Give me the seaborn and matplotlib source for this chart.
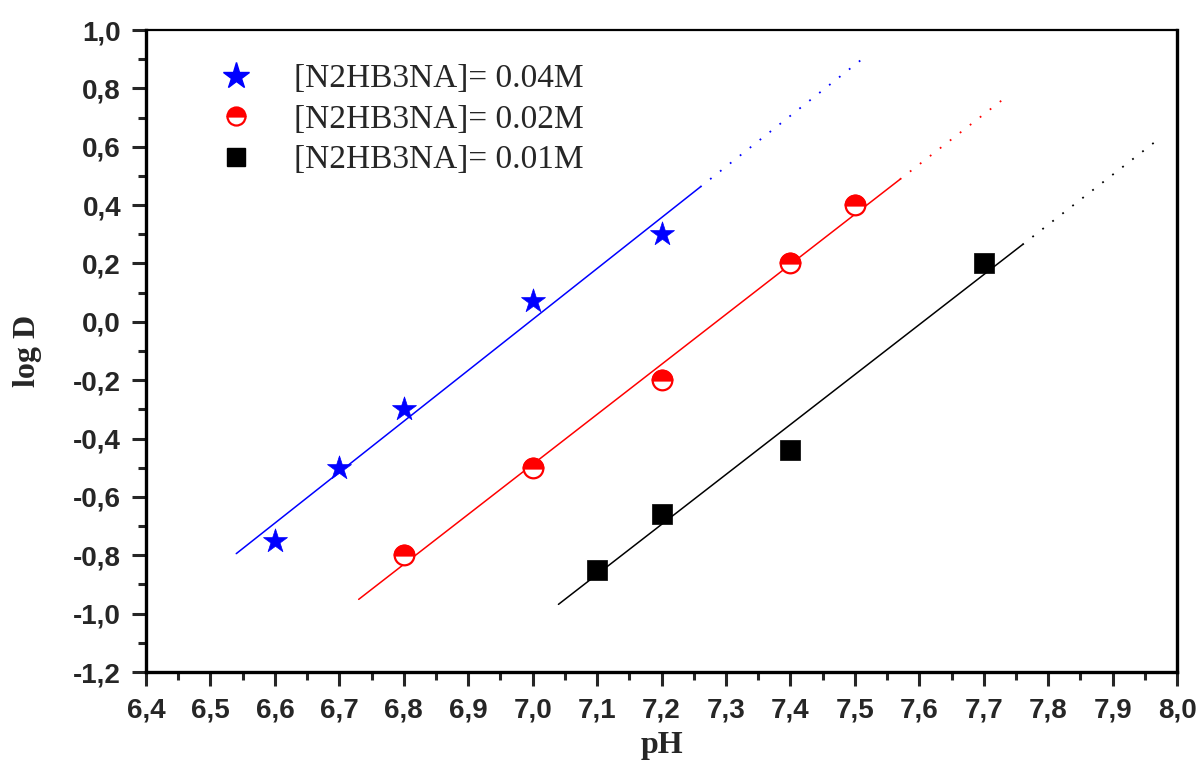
import numpy as np
import matplotlib
matplotlib.use("Agg")
import matplotlib.pyplot as plt
from matplotlib.lines import Line2D
from matplotlib.markers import MarkerStyle
from matplotlib.ticker import MultipleLocator, FuncFormatter
import seaborn as sns

# data
ph_004 = [6.6, 6.7, 6.8, 7.0, 7.2]
logd_004 = [-0.75, -0.50, -0.30, 0.07, 0.30]

ph_002 = [6.8, 7.0, 7.2, 7.4, 7.5]
logd_002 = [-0.80, -0.50, -0.20, 0.20, 0.40]

ph_001 = [7.1, 7.2, 7.4, 7.7]
logd_001 = [-0.85, -0.66, -0.44, 0.20]

labels = ["[N2HB3NA]= 0.04M", "[N2HB3NA]= 0.02M", "[N2HB3NA]= 0.01M"]
# where the dotted extrapolation of each fit stops (pH)
extrap_end = [7.52, 7.74, 7.97]

sns.set_style("ticks")
plt.rcParams["font.family"] = ["Liberation Serif", "DejaVu Serif"]

fig = plt.figure(figsize=(11.98, 7.66), dpi=100)
ax = fig.add_axes([0.1219, 0.1227, 0.8606, 0.8381])

series = [
    (ph_004, logd_004, "#0000ff"),
    (ph_002, logd_002, "#ff0000"),
    (ph_001, logd_001, "#000000"),
]

# linear fits: solid over data range +10%, dotted extrapolation after
for (x, y, col), xend in zip(series, extrap_end):
    x = np.array(x)
    y = np.array(y)
    k, b = np.polyfit(x, y, 1)
    pad = 0.1 * (x.max() - x.min())
    xs = np.array([x.min() - pad, x.max() + pad])
    ax.plot(xs, k * xs + b, color=col, lw=1.1, zorder=2)
    xd = np.array([x.max() + pad, xend])
    ax.plot(xd, k * xd + b, color=col, lw=1.3, linestyle=(0, (1, 6)), zorder=2)

# markers
sns.scatterplot(x=ph_004, y=logd_004, ax=ax, marker="*", s=330,
                color="#0000ff", edgecolor="#0000ff", linewidth=0.5, zorder=3)
sns.scatterplot(x=ph_002, y=logd_002, ax=ax, marker="o", s=200,
                facecolor="white", edgecolor="#ff0000", linewidth=1.6, zorder=3)
sns.scatterplot(x=ph_002, y=logd_002, ax=ax, marker=MarkerStyle("o", fillstyle="top"),
                s=200, color="#ff0000", edgecolor="#ff0000", linewidth=1.6, zorder=4)
sns.scatterplot(x=ph_001, y=logd_001, ax=ax, marker="s", s=190,
                color="#000000", edgecolor="#000000", linewidth=0.5, zorder=3)

ax.set_xlim(6.4, 8.0)
ax.set_ylim(-1.2, 1.0)

ax.xaxis.set_major_locator(MultipleLocator(0.1))
ax.xaxis.set_minor_locator(MultipleLocator(0.05))
ax.yaxis.set_major_locator(MultipleLocator(0.2))
ax.yaxis.set_minor_locator(MultipleLocator(0.1))
fmt = FuncFormatter(lambda v, p: ("%.1f" % v).replace(".", ",").replace("-0,0", "0,0"))
ax.xaxis.set_major_formatter(fmt)
ax.yaxis.set_major_formatter(fmt)

ax.tick_params(axis="both", which="major", direction="out", length=10, width=2.2,
               pad=8, labelsize=20)
ax.tick_params(axis="both", which="minor", direction="out", length=6, width=2.2)
ax.tick_params(top=False, right=False, which="both")
for lab in ax.get_xticklabels() + ax.get_yticklabels():
    lab.set_family(["Liberation Sans", "DejaVu Sans"])
    lab.set_fontweight("bold")

for side in ["left", "bottom", "right"]:
    ax.spines[side].set_linewidth(2.4)
ax.spines["top"].set_linewidth(1.6)
for s in ax.spines.values():
    s.set_visible(True)
    s.set_color("black")

ax.set_xlabel("pH", fontsize=23, fontweight="bold", labelpad=6)
ax.set_ylabel("log D", fontsize=23, fontweight="bold", labelpad=22)

handles = [
    Line2D([], [], linestyle="none", marker="*", markersize=20,
           color="#0000ff", markeredgecolor="#0000ff"),
    Line2D([], [], linestyle="none", marker="o", markersize=13, fillstyle="top",
           color="#ff0000", markerfacecoloralt="white", markeredgecolor="#ff0000",
           markeredgewidth=1.6),
    Line2D([], [], linestyle="none", marker="s", markersize=13, color="#000000"),
]
ax.legend(handles, labels, loc="upper left", bbox_to_anchor=(0.058, 0.968),
          frameon=False, fontsize=24, handlelength=1.0, handletextpad=1.23,
          labelspacing=0.3, borderaxespad=0.0)

fig.savefig("out.png", dpi=100)
